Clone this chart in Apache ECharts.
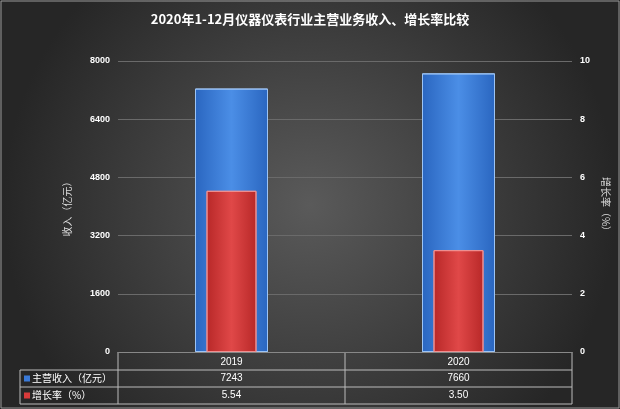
<!DOCTYPE html>
<html><head><meta charset="utf-8">
<script src="https://cdn.jsdelivr.net/npm/echarts@6/dist/echarts.min.js"></script>
<style>html,body{margin:0;padding:0;background:#333}#c{width:620px;height:409px}</style>
</head><body><div id="c"></div>
<script>
const categories = ['2019', '2020'];
const revenue = [7243, 7660];
const growth = [5.54, 3.50];
const growthLabels = ['5.54', '3.50'];
const seriesNames = ['主营收入（亿元）', '增长率（%）'];

const chart = echarts.init(document.getElementById('c'));
const L = 118, R = 48, T = 61, B = 57;
const blue = new echarts.graphic.LinearGradient(0,0,1,0,[{offset:0,color:'#2a66c0'},{offset:0.5,color:'#4b8ee6'},{offset:1,color:'#2a66c0'}]);
const red = new echarts.graphic.LinearGradient(0,0,1,0,[{offset:0,color:'#b82828'},{offset:0.5,color:'#e04848'},{offset:1,color:'#b82828'}]);
chart.setOption({
  backgroundColor: new echarts.graphic.RadialGradient(0.5,0.5,0.75,[{offset:0,color:'#5a5a5a'},{offset:1,color:'#262626'}]),
  title: {text:'2020年1-12月仪器仪表行业主营业务收入、增长率比较', left:'center', top:8,
    textStyle:{color:'#fff', fontSize:13, fontWeight:'bold', fontFamily:'Noto Sans CJK SC'}},
  grid: {left:L, right:R, top:T, bottom:B},
  xAxis: [
    {type:'category', data:categories, axisLine:{lineStyle:{color:'#888'}}, axisTick:{show:false},
      axisLabel:{color:'#fff', fontSize:10, margin:5}},
    {type:'category', data:categories, show:false}
  ],
  yAxis: [
    {type:'value', min:0, max:8000, interval:1600, name:'收入（亿元）', nameLocation:'middle', nameGap:46,
      nameTextStyle:{color:'#ddd', fontSize:10, fontFamily:'Noto Sans CJK SC'},
      axisLabel:{color:'#fff', fontSize:9, fontWeight:'bold', formatter:v=>String(v)}, splitLine:{lineStyle:{color:'#6a6a6a'}}},
    {type:'value', min:0, max:10, interval:2, name:'增长率（%）', nameLocation:'middle', nameGap:24, nameRotate:-90,
      nameTextStyle:{color:'#ddd', fontSize:10, fontFamily:'Noto Sans CJK SC'},
      axisLabel:{color:'#fff', fontSize:9, fontWeight:'bold'}, splitLine:{show:false}}
  ],
  series: [
    {name:seriesNames[0], type:'bar', data:revenue, barWidth:73, itemStyle:{color:blue, borderColor:'#9cc4f5', borderWidth:1}},
    {name:seriesNames[1], type:'bar', xAxisIndex:1, yAxisIndex:1, data:growth, barWidth:50, itemStyle:{color:red, borderColor:'#f09090', borderWidth:1}, z:3}
  ]
});
const W = 620, H = 409;
const x0 = 20, xl = L, xr = W - R, y0 = H - B, y1 = y0 + 18, y2 = y1 + 17, y3 = y2 + 17;
const lc = {stroke:'#bbb', lineWidth:1};
const g = [];
function line(a,b,c,d){g.push({type:'line', shape:{x1:a,y1:b,x2:c,y2:d}, style:lc, silent:true});}
line(xl,y0,xl,y3); line(x0,y1,xr,y1); line(x0,y2,xr,y2); line(x0,y3,xr,y3); line(x0,y1,x0,y3); line(xr,y0,xr,y3);
const mid = (xl + xr) / 2; line(mid,y0,mid,y3);
const colors = ['#3a7ad8', '#d83a3a'];
[revenue.map(String), growthLabels].forEach((row, r) => {
  const yc = (r === 0 ? (y1 + y2) / 2 : (y2 + y3) / 2);
  g.push({type:'rect', shape:{x:x0+4, y:yc-3, width:6, height:6}, style:{fill:colors[r]}});
  g.push({type:'text', x:x0+12, y:yc, style:{text:seriesNames[r], fill:'#fff', fontSize:10, verticalAlign:'middle', fontFamily:'Noto Sans CJK SC'}});
  row.forEach((v, i) => {
    const px = chart.convertToPixel({xAxisIndex:0}, categories[i]);
    g.push({type:'text', x:px, y:yc, style:{text:v, fill:'#fff', fontSize:10, align:'center', verticalAlign:'middle'}});
  });
});
g.push({type:'rect', shape:{x:1,y:1,width:W-2,height:H-2}, style:{fill:'none', stroke:'#999', lineWidth:1}, silent:true});
chart.setOption({graphic: g});
</script></body></html>
